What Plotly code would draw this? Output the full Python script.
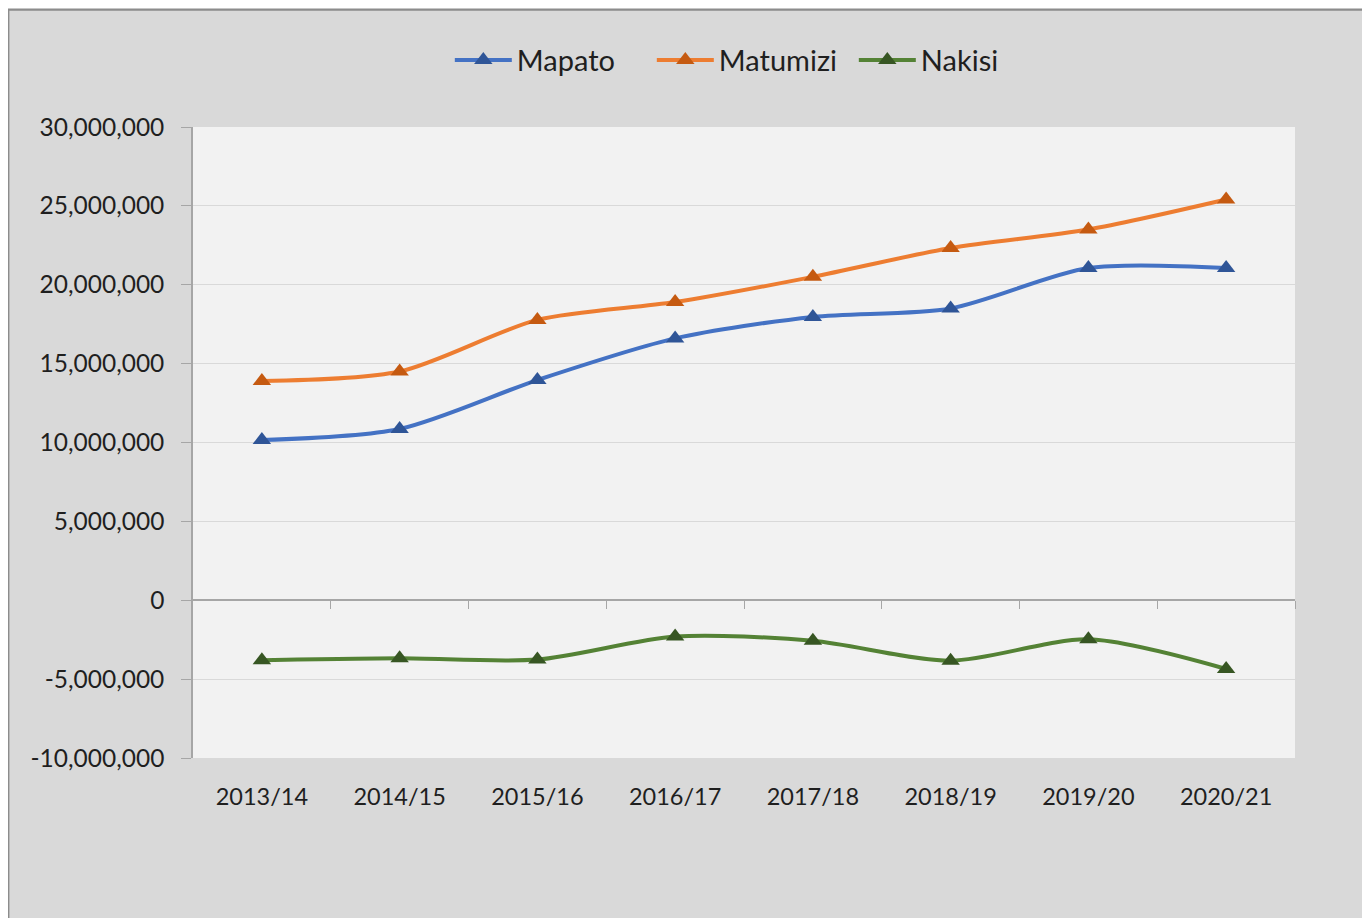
import plotly.graph_objects as go

years = ["2013/14", "2014/15", "2015/16", "2016/17", "2017/18", "2018/19", "2019/20", "2020/21"]
mapato = [10160000, 10860000, 13960000, 16600000, 17960000, 18500000, 21060000, 21060000]
matumizi = [13900000, 14500000, 17770000, 18900000, 20500000, 22330000, 23500000, 25400000]
nakisi = [-3800000, -3680000, -3760000, -2300000, -2570000, -3830000, -2480000, -4360000]
ytick_vals = [-10000000, -5000000, 0, 5000000, 10000000, 15000000, 20000000, 25000000, 30000000]
ytick_text = ["{:,}".format(v) for v in ytick_vals]

series = [
    ("Mapato", mapato, "#4472c4", "#2f5597"),
    ("Matumizi", matumizi, "#ed7d31", "#c55a11"),
    ("Nakisi", nakisi, "#548235", "#375623"),
]

FONT = "Lato"
fig = go.Figure()
for name, vals, lc, mc in series:
    fig.add_trace(go.Scatter(
        x=years, y=vals, name=name, mode="lines+markers",
        line=dict(color=lc, width=4, shape="spline", smoothing=0.8),
        marker=dict(symbol="triangle-up", size=16, color=mc),
    ))

# invisible trace carrying the zero-line axis with category boundary ticks
fig.add_trace(go.Scatter(x=[0], y=[0], xaxis="x2", yaxis="y", mode="markers",
                         marker=dict(opacity=0), showlegend=False, hoverinfo="skip"))

fig.update_layout(
    width=1362, height=910,
    paper_bgcolor="#d9d9d9", plot_bgcolor="#f2f2f2",
    margin=dict(l=185, r=75, t=119, b=160),
    font=dict(family=FONT, size=24, color="#1f1f1f"),
    showlegend=True,
    legend=dict(orientation="h", x=0.508, xanchor="center", y=1.106, yanchor="middle",
                font=dict(size=29, color="#1f1f1f"), bgcolor="rgba(0,0,0,0)",
                itemwidth=57, entrywidth=130, entrywidthmode="pixels", tracegroupgap=0),
    xaxis=dict(type="category", range=[-0.5, 7.5], showgrid=False, showline=False,
               zeroline=False, ticks="outside", ticklen=18, tickcolor="rgba(0,0,0,0)",
               tickfont=dict(size=23.5, color="#1f1f1f")),
    xaxis2=dict(overlaying="x", anchor="free", position=0.25, range=[-0.5, 7.5],
                tickvals=[0.5, 1.5, 2.5, 3.5, 4.5, 5.5, 6.5, 7.5], showticklabels=False,
                ticks="outside", ticklen=8, tickcolor="#a6a6a6", showline=True,
                linecolor="#a6a6a6", linewidth=1.5, showgrid=False, zeroline=False),
    yaxis=dict(range=[-10000000, 30000000], tickvals=ytick_vals, ticktext=ytick_text,
               showgrid=True, gridcolor="#d9d9d9", gridwidth=1, zeroline=False,
               showline=True, linecolor="#a6a6a6", linewidth=1.5,
               ticks="outside", ticklen=10, tickcolor="#a6a6a6", ticklabelstandoff=12,
               tickfont=dict(size=24.5, color="#1f1f1f")),
    shapes=[dict(type="rect", xref="paper", yref="paper", layer="below",
                 x0=-0.1675, x1=1.07, y0=-0.26, y1=1.186,
                 fillcolor="rgba(0,0,0,0)", line=dict(color="#8c8c8c", width=2))],
)

fig.write_html("out.html")
